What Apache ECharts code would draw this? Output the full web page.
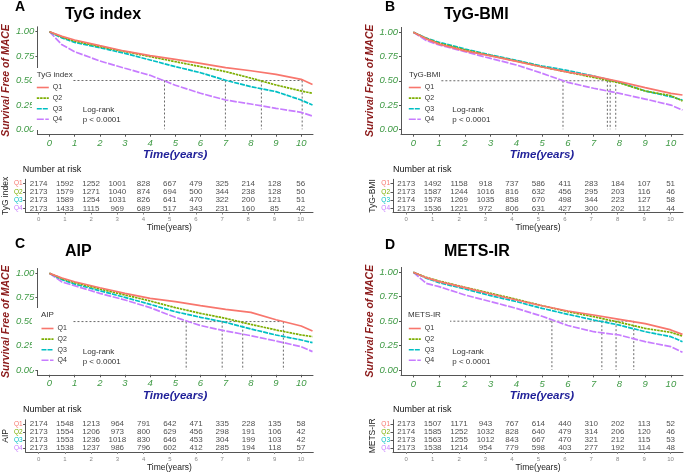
<!DOCTYPE html>
<html>
<head>
<meta charset="utf-8">
<script src="https://cdn.jsdelivr.net/npm/echarts@6/dist/echarts.min.js"></script>
<style>html,body{margin:0;padding:0;background:#fff}#c{width:685px;height:473px}</style>
</head>
<body>
<div id="c"></div>
<script>
// ---------- DATA ----------
const groups = ['Q1', 'Q2', 'Q3', 'Q4'];
const timePts = [0, 0.5, 1, 2, 3, 4, 5, 6, 7, 8, 9, 10, 10.45];
const riskYears = [0, 1, 2, 3, 4, 5, 6, 7, 8, 9, 10];
const survTicks = [0, 0.25, 0.5, 0.75, 1];

const panelTitles = ['TyG index', 'TyG-BMI', 'AIP', 'METS-IR'];
const panelLetters = ['A', 'B', 'C', 'D'];

// survival probabilities at timePts
const survA_Q1 = [1, 0.952, 0.915, 0.857, 0.800, 0.754, 0.717, 0.676, 0.631, 0.600, 0.563, 0.512, 0.460];
const survA_Q2 = [1, 0.945, 0.905, 0.847, 0.796, 0.745, 0.693, 0.642, 0.591, 0.525, 0.454, 0.393, 0.369];
const survA_Q3 = [1, 0.935, 0.890, 0.836, 0.778, 0.710, 0.642, 0.580, 0.502, 0.437, 0.386, 0.300, 0.249];
const survA_Q4 = [1, 0.865, 0.795, 0.700, 0.625, 0.553, 0.452, 0.369, 0.300, 0.259, 0.215, 0.174, 0.136];

const survB_Q1 = [1, 0.932, 0.878, 0.808, 0.756, 0.700, 0.642, 0.590, 0.548, 0.492, 0.430, 0.371, 0.354];
const survB_Q2 = [1, 0.937, 0.886, 0.818, 0.760, 0.703, 0.643, 0.588, 0.535, 0.478, 0.395, 0.347, 0.292];
const survB_Q3 = [1, 0.940, 0.896, 0.828, 0.766, 0.710, 0.652, 0.606, 0.548, 0.485, 0.395, 0.336, 0.302];
const survB_Q4 = [1, 0.915, 0.869, 0.800, 0.731, 0.663, 0.577, 0.484, 0.423, 0.371, 0.312, 0.250, 0.199];

const survC_Q1 = [1, 0.952, 0.913, 0.851, 0.793, 0.741, 0.707, 0.665, 0.627, 0.596, 0.520, 0.455, 0.403];
const survC_Q2 = [1, 0.945, 0.903, 0.838, 0.776, 0.714, 0.645, 0.586, 0.534, 0.472, 0.414, 0.362, 0.345];
const survC_Q3 = [1, 0.935, 0.889, 0.820, 0.751, 0.679, 0.603, 0.545, 0.493, 0.424, 0.362, 0.310, 0.283];
const survC_Q4 = [1, 0.910, 0.872, 0.793, 0.724, 0.645, 0.545, 0.460, 0.403, 0.355, 0.300, 0.241, 0.190];

const survD_Q1 = [1, 0.945, 0.904, 0.843, 0.778, 0.716, 0.658, 0.604, 0.563, 0.519, 0.475, 0.410, 0.365];
const survD_Q2 = [1, 0.948, 0.911, 0.846, 0.785, 0.723, 0.658, 0.597, 0.546, 0.488, 0.426, 0.385, 0.348];
const survD_Q3 = [1, 0.940, 0.894, 0.829, 0.761, 0.700, 0.631, 0.570, 0.512, 0.460, 0.392, 0.341, 0.290];
const survD_Q4 = [1, 0.887, 0.853, 0.768, 0.700, 0.631, 0.550, 0.455, 0.392, 0.358, 0.290, 0.239, 0.181];

// median survival times (Q1..Q4)
const medA = [10.04, 8.42, 6.99, 4.57];
const medB = [7.86, 7.53, 7.64, 5.81];
const medC = [9.29, 7.68, 6.86, 5.43];
const medD = [8.56, 7.87, 7.32, 5.38];

// numbers at risk at riskYears
const riskA_Q1 = [2174, 1592, 1252, 1001, 828, 667, 479, 325, 214, 128, 56];
const riskA_Q2 = [2173, 1579, 1271, 1040, 874, 694, 500, 344, 238, 128, 50];
const riskA_Q3 = [2173, 1589, 1254, 1031, 826, 641, 470, 322, 200, 121, 51];
const riskA_Q4 = [2173, 1433, 1115, 969, 689, 517, 343, 231, 160, 85, 42];

const riskB_Q1 = [2173, 1492, 1158, 918, 737, 586, 411, 283, 184, 107, 51];
const riskB_Q2 = [2173, 1587, 1244, 1016, 816, 632, 456, 295, 203, 116, 46];
const riskB_Q3 = [2174, 1578, 1269, 1035, 858, 670, 498, 344, 223, 127, 58];
const riskB_Q4 = [2173, 1536, 1221, 972, 806, 631, 427, 300, 202, 112, 44];

const riskC_Q1 = [2174, 1548, 1213, 964, 791, 642, 471, 335, 228, 135, 58];
const riskC_Q2 = [2173, 1554, 1206, 973, 800, 629, 456, 298, 191, 106, 42];
const riskC_Q3 = [2173, 1553, 1236, 1018, 830, 646, 453, 304, 199, 103, 42];
const riskC_Q4 = [2173, 1538, 1237, 986, 796, 602, 412, 285, 194, 118, 57];

const riskD_Q1 = [2173, 1507, 1171, 943, 767, 614, 440, 310, 202, 113, 52];
const riskD_Q2 = [2174, 1585, 1252, 1032, 828, 640, 479, 314, 206, 120, 46];
const riskD_Q3 = [2173, 1563, 1255, 1012, 843, 667, 470, 321, 212, 115, 53];
const riskD_Q4 = [2173, 1538, 1214, 954, 779, 598, 403, 277, 192, 114, 48];

// ---------- STYLE / LAYOUT ----------
const FONT = '"Liberation Sans", Arial, Helvetica, sans-serif';
const colors = ['#F8766D', '#7CAE00', '#00BFC4', '#C77CFF'];
const dashes = ['solid', [2.5, 0.8], [5, 1], [7, 1.5]];
const tickGreen = '#3f9a45';
const axisCol = '#555';

const panels = [
  { surv: [survA_Q1, survA_Q2, survA_Q3, survA_Q4], med: medA, risk: [riskA_Q1, riskA_Q2, riskA_Q3, riskA_Q4],
    L: { plot: [31, 26.8, 282, 107.4], table: [22.7, 179.3, 290.3, 33.3], letter: [20, 7], title: [65, 15], nar: [22.7, 170], lr: [82.7, 110], leg: [36, 84], legTitle: [36.7, 75], cover: [32, 68, 41, 62] } },
  { surv: [survB_Q1, survB_Q2, survB_Q3, survB_Q4], med: medB, risk: [riskB_Q1, riskB_Q2, riskB_Q3, riskB_Q4],
    L: { plot: [401, 27.4, 282, 106.8], table: [393, 179.3, 290, 33.3], letter: [390, 7], title: [444, 15], nar: [393, 170], lr: [452.3, 110], leg: [408, 84], legTitle: [409, 75], cover: [402, 68, 39, 62] } },
  { surv: [survC_Q1, survC_Q2, survC_Q3, survC_Q4], med: medC, risk: [riskC_Q1, riskC_Q2, riskC_Q3, riskC_Q4],
    L: { plot: [31, 268.5, 282, 106.3], table: [23.3, 419.8, 290, 33.3], letter: [20, 244], title: [65, 252], nar: [23, 410], lr: [82.7, 351.7], leg: [40.7, 325], legTitle: [41, 315], cover: [32, 308, 40, 62] } },
  { surv: [survD_Q1, survD_Q2, survD_Q3, survD_Q4], med: medD, risk: [riskD_Q1, riskD_Q2, riskD_Q3, riskD_Q4],
    L: { plot: [401, 267.4, 282, 107.5], table: [393, 419.8, 290, 33.3], letter: [390, 245], title: [444, 252], nar: [393, 410], lr: [452.3, 351.7], leg: [408, 325], legTitle: [408, 315], cover: [402, 308, 48, 62] } }
];

const grid = [], xAxis = [], yAxis = [], series = [], legend = [], graphic = [];

panels.forEach((p, pi) => {
  const L = p.L;
  const gPlot = grid.length;
  grid.push({ left: L.plot[0], top: L.plot[1], width: L.plot[2], height: L.plot[3], containLabel: false });
  const gTab = grid.length;
  grid.push({ left: L.table[0], top: L.table[1], width: L.table[2], height: L.table[3], containLabel: false });

  // plot axes
  xAxis.push({
    type: 'value', gridIndex: gPlot, min: -0.48, max: 10.47,
    axisLine: { show: true, onZero: false, lineStyle: { color: axisCol, width: 1 } },
    axisTick: { show: true, customValues: riskYears, length: 2.5, lineStyle: { color: axisCol } },
    axisLabel: { customValues: riskYears, color: tickGreen, fontStyle: 'italic', fontSize: 9.5, margin: 4, fontFamily: FONT },
    splitLine: { show: false },
    name: 'Time(years)', nameLocation: 'middle', nameGap: 15,
    nameTextStyle: { color: '#22229a', fontWeight: 'bold', fontStyle: 'italic', fontSize: 11.5, fontFamily: FONT }
  });
  yAxis.push({
    type: 'value', gridIndex: gPlot, min: -0.05, max: 1.05,
    axisLine: { show: true, onZero: false, lineStyle: { color: axisCol, width: 1 } },
    axisTick: { show: true, customValues: survTicks, length: 2, lineStyle: { color: axisCol } },
    axisLabel: { customValues: survTicks, formatter: v => v.toFixed(2), color: tickGreen, fontStyle: 'italic', fontSize: 9.5, margin: 3, fontFamily: FONT },
    splitLine: { show: false },
    name: 'Survival Free of MACE', nameLocation: 'middle', nameGap: 21,
    nameTextStyle: { color: '#8b1a1a', fontWeight: 'bold', fontStyle: 'italic', fontSize: 10.5, fontFamily: FONT }
  });
  const axPlot = xAxis.length - 1;

  // table axes
  xAxis.push({
    type: 'value', gridIndex: gTab, min: -0.5, max: 10.47,
    axisLine: { show: true, onZero: false, lineStyle: { color: axisCol, width: 1 } },
    axisTick: { show: true, customValues: riskYears, length: 2, lineStyle: { color: '#888' } },
    axisLabel: { customValues: riskYears, color: '#888', fontSize: 6, margin: 4, fontFamily: FONT },
    splitLine: { show: false },
    name: 'Time(years)', nameLocation: 'middle', nameGap: 11,
    nameTextStyle: { color: '#222', fontSize: 8.5, fontFamily: FONT }
  });
  yAxis.push({
    type: 'category', gridIndex: gTab, data: groups.slice().reverse(),
    axisLine: { show: true, onZero: false, lineStyle: { color: axisCol, width: 1 } },
    axisTick: { show: true, alignWithLabel: true, interval: 0, length: 2.5, lineStyle: { color: axisCol } },
    axisLabel: { interval: 0, color: (v) => colors[groups.indexOf(v)], fontSize: 6.5, margin: 3, fontFamily: FONT },
    splitLine: { show: false },
    name: panelTitles[pi], nameLocation: 'middle', nameGap: 13, nameRotate: 90,
    nameTextStyle: { color: '#222', fontSize: 8.5, fontFamily: FONT }
  });
  const axTab = xAxis.length - 1;

  // median reference lines
  const mMax = Math.max(...p.med);
  const medStyle = { color: '#444', width: 0.8, type: [2, 2] };
  series.push({ type: 'line', name: 'med-h' + pi, xAxisIndex: axPlot, yAxisIndex: axPlot, data: [[0, 0.5], [mMax, 0.5]], symbol: 'none', lineStyle: medStyle, z: 1, silent: true });
  p.med.forEach((m, mi) => {
    series.push({ type: 'line', name: 'med-v' + pi + mi, xAxisIndex: axPlot, yAxisIndex: axPlot, data: [[m, 0.5], [m, 0]], symbol: 'none', lineStyle: medStyle, z: 1, silent: true });
  });

  // survival curves
  groups.forEach((g, gi) => {
    series.push({
      type: 'line', name: g, xAxisIndex: axPlot, yAxisIndex: axPlot,
      data: timePts.map((t, i) => [t, p.surv[gi][i]]),
      symbol: 'none', showSymbol: false,
      lineStyle: { color: colors[gi], width: 1.7, type: dashes[gi] },
      itemStyle: { color: colors[gi] }, z: 3.5 - gi * 0.1
    });
  });

  // risk table
  groups.forEach((g, gi) => {
    series.push({
      type: 'scatter', name: 'risk' + pi + g, xAxisIndex: axTab, yAxisIndex: axTab,
      data: riskYears.map((y, i) => [y, g, p.risk[gi][i]]),
      symbolSize: 1, itemStyle: { color: 'rgba(0,0,0,0)' },
      label: { show: true, position: 'inside', formatter: (q) => String(q.value[2]), color: '#222', fontSize: 8, fontFamily: FONT },
      silent: true
    });
  });

  legend.push({
    data: groups, orient: 'vertical', left: L.leg[0], top: L.leg[1], padding: 0,
    itemWidth: 12, itemHeight: 8, itemGap: 3.6, selectedMode: false,
    itemStyle: { opacity: 0 },
    lineStyle: { width: 1.6 },
    textStyle: { fontSize: 7, color: '#333', fontFamily: FONT, padding: [0, 0, 0, -1] }, z: 6
  });

  // decorations
  graphic.push({ type: 'rect', shape: { x: L.cover[0], y: L.cover[1], width: L.cover[2], height: L.cover[3] }, style: { fill: '#fff' }, z: 5, silent: true });
  graphic.push({ type: 'text', x: L.legTitle[0], y: L.legTitle[1], style: { text: panelTitles[pi], fill: '#333', font: '8px ' + FONT, align: 'left', verticalAlign: 'middle' }, z: 6 });
  graphic.push({ type: 'text', x: L.letter[0], y: L.letter[1], style: { text: panelLetters[pi], fill: '#000', font: 'bold 14px ' + FONT, align: 'center', verticalAlign: 'middle' }, z: 6 });
  graphic.push({ type: 'text', x: L.title[0], y: L.title[1], style: { text: panelTitles[pi], fill: '#000', font: 'bold 16px ' + FONT, align: 'left', verticalAlign: 'middle' }, z: 6 });
  graphic.push({ type: 'text', x: L.nar[0], y: L.nar[1], style: { text: 'Number at risk', fill: '#111', font: '9px ' + FONT, align: 'left', verticalAlign: 'middle' }, z: 6 });
  graphic.push({ type: 'text', x: L.lr[0], y: L.lr[1], style: { text: 'Log-rank', fill: '#333', font: '8px ' + FONT, align: 'left', verticalAlign: 'middle' }, z: 6 });
  graphic.push({ type: 'text', x: L.lr[0], y: L.lr[1] + 10, style: { text: 'p < 0.0001', fill: '#333', font: '8px ' + FONT, align: 'left', verticalAlign: 'middle' }, z: 6 });
});

const chart = echarts.init(document.getElementById('c'), null, { renderer: 'canvas' });
chart.setOption({
  backgroundColor: '#fff',
  animation: false,
  textStyle: { fontFamily: FONT },
  grid, xAxis, yAxis, series, legend, graphic
});
</script>
</body>
</html>
